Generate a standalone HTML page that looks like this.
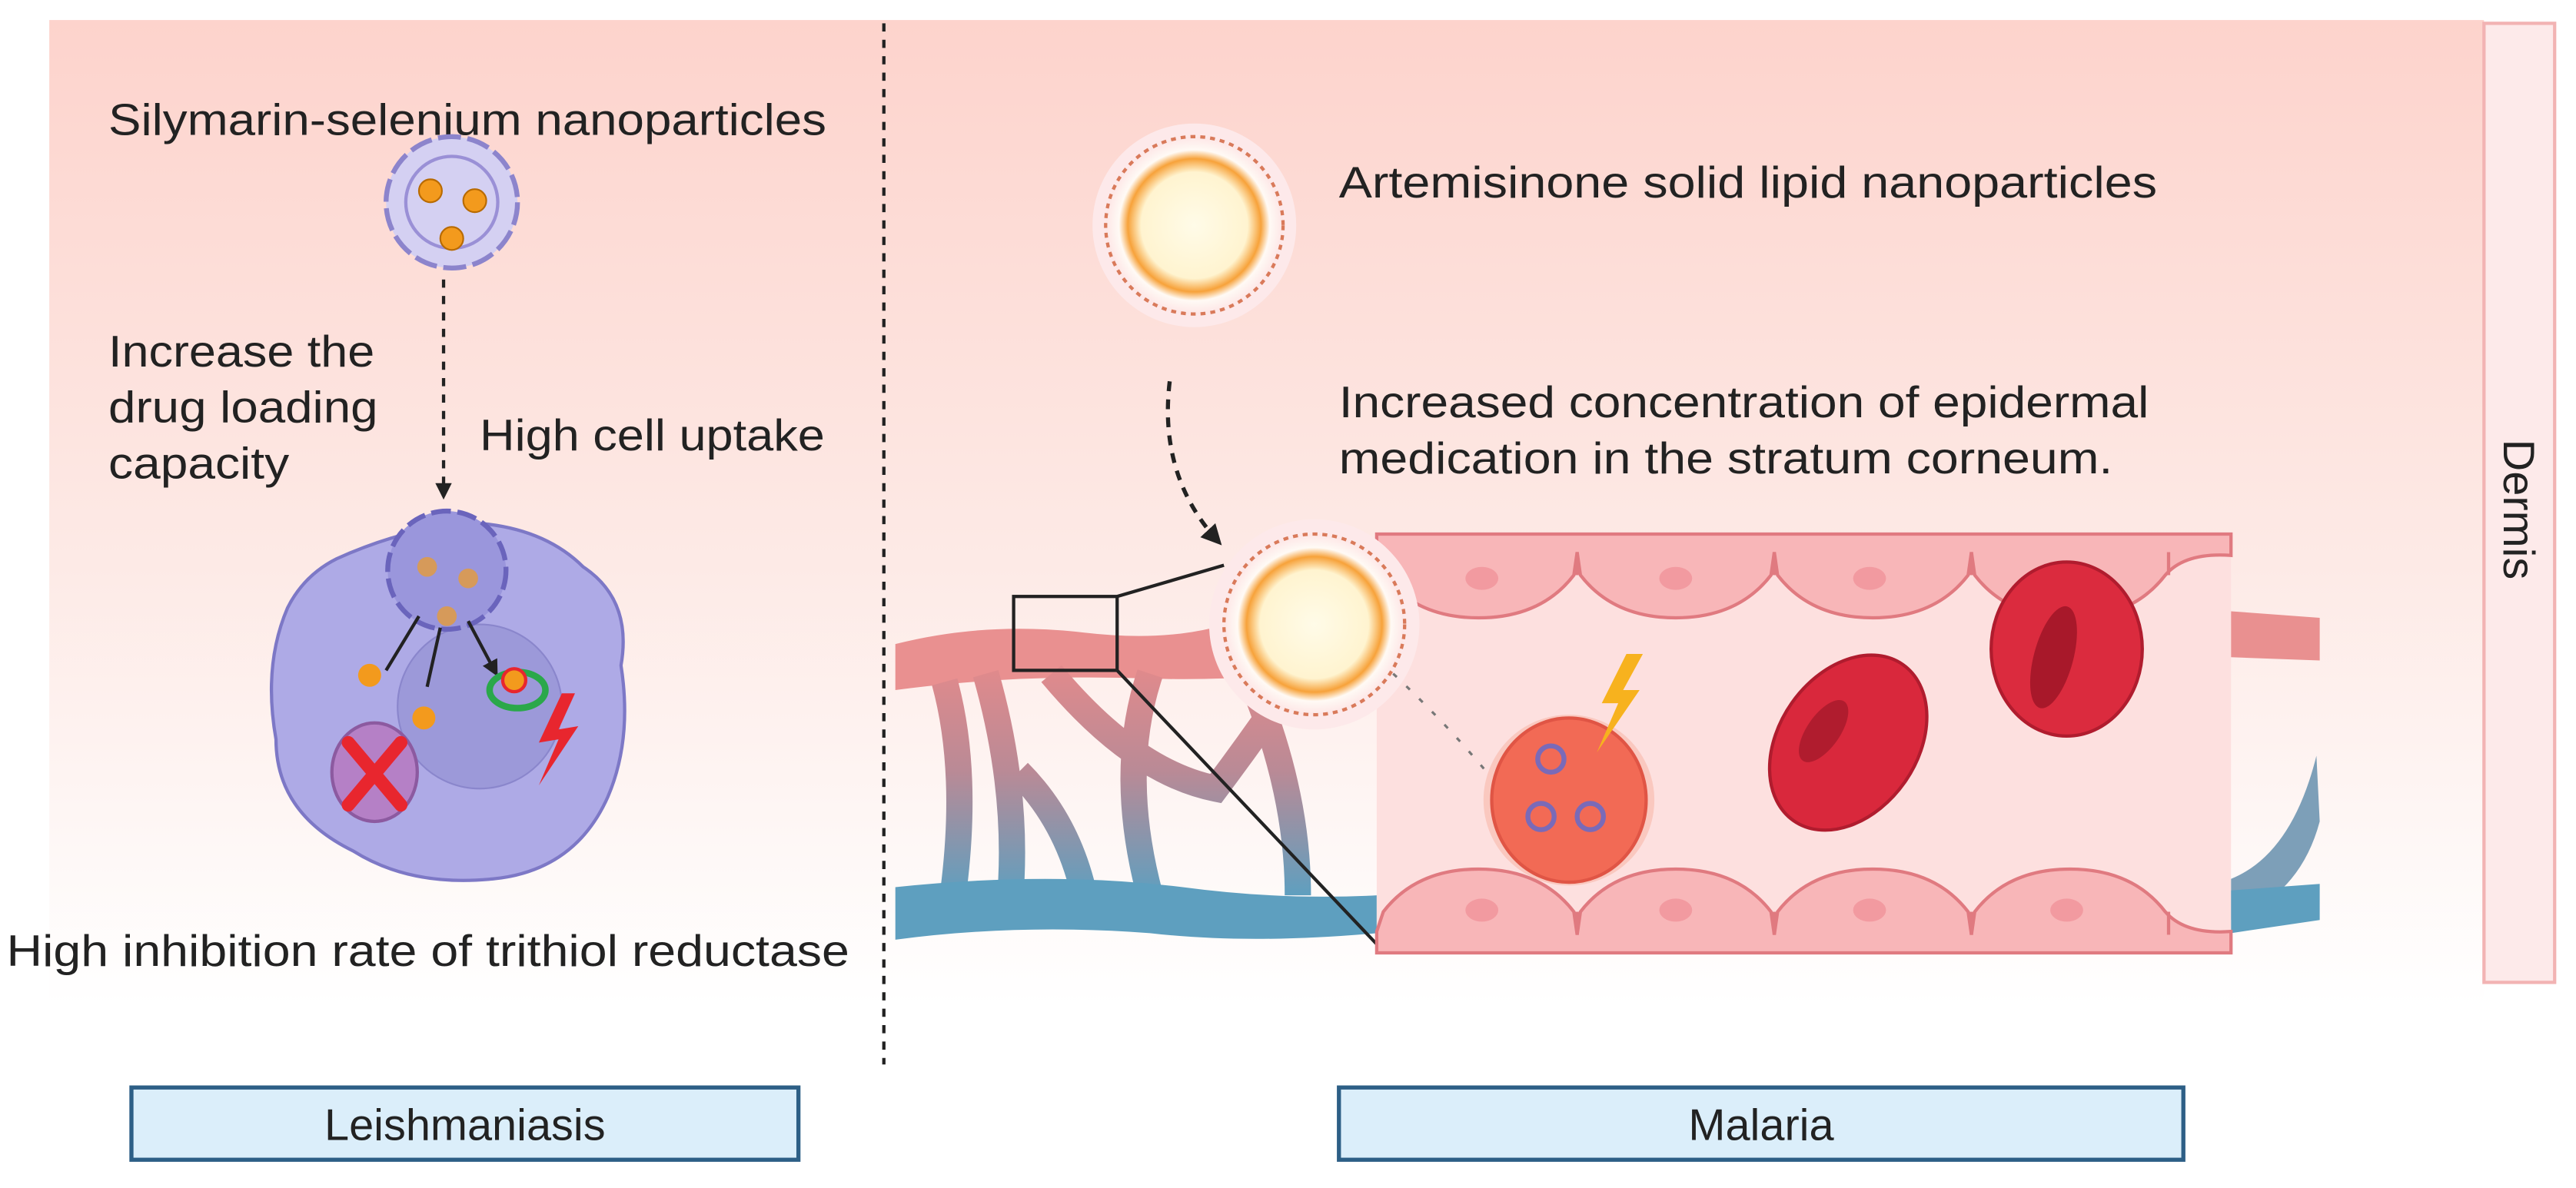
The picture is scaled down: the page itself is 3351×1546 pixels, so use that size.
<!DOCTYPE html>
<html><head><meta charset="utf-8"><style>
html,body{margin:0;padding:0;background:#fff}
svg{display:block}
text{font-family:"Liberation Sans",sans-serif;fill:#222}
</style></head><body>
<svg width="3351" height="1546" viewBox="0 0 1568 723" xmlns="http://www.w3.org/2000/svg">
<defs>
<linearGradient id="bg" x1="0" y1="0" x2="0" y2="1">
<stop offset="0" stop-color="#fdd3cc"/><stop offset="0.55" stop-color="#fdeae6"/><stop offset="1" stop-color="#ffffff"/>
</linearGradient>
<linearGradient id="vein" x1="0" y1="0" x2="0" y2="1">
<stop offset="0" stop-color="#e88a8a"/><stop offset="0.5" stop-color="#b98a96"/><stop offset="1" stop-color="#5f9fbf"/>
</linearGradient>
<radialGradient id="np" cx="0.5" cy="0.5" r="0.5">
<stop offset="0" stop-color="#fffbe8"/><stop offset="0.6" stop-color="#fff4d0"/><stop offset="0.75" stop-color="#f7a23a"/><stop offset="0.85" stop-color="#fffaf5"/><stop offset="1" stop-color="#fde6e6"/>
</radialGradient>
<marker id="ah" viewBox="0 0 10 10" refX="8" refY="5" markerWidth="5" markerHeight="5" orient="auto"><path d="M0,0L10,5L0,10z" fill="#222"/></marker>
</defs>
<rect x="30" y="12" width="1482" height="600" fill="url(#bg)"/>
<rect x="1512" y="14" width="43" height="584" fill="#fdeaea" stroke="#f2b3b3" stroke-width="2"/>
<text x="0" y="0" font-size="27" transform="translate(1524,310) rotate(90)" text-anchor="middle">Dermis</text>
<line x1="538" y1="14" x2="538" y2="648" stroke="#222" stroke-width="2" stroke-dasharray="5,5"/>

<g font-size="27">
<text x="66" y="82" textLength="437" lengthAdjust="spacingAndGlyphs">Silymarin-selenium nanoparticles</text>
<text x="66" y="223" textLength="162" lengthAdjust="spacingAndGlyphs">Increase the</text>
<text x="66" y="257" textLength="164" lengthAdjust="spacingAndGlyphs">drug loading</text>
<text x="66" y="291" textLength="110" lengthAdjust="spacingAndGlyphs">capacity</text>
<text x="292" y="274" textLength="210" lengthAdjust="spacingAndGlyphs">High cell uptake</text>
<text x="4" y="588" textLength="513" lengthAdjust="spacingAndGlyphs">High inhibition rate of trithiol reductase</text>
<text x="815" y="120" textLength="498" lengthAdjust="spacingAndGlyphs">Artemisinone solid lipid nanoparticles</text>
<text x="815" y="254" textLength="493" lengthAdjust="spacingAndGlyphs">Increased concentration of epidermal</text>
<text x="815" y="288" textLength="471" lengthAdjust="spacingAndGlyphs">medication in the stratum corneum.</text>
</g>

<circle cx="275" cy="123" r="40" fill="#d4d0f2" stroke="#8c84cc" stroke-width="3" stroke-dasharray="14,4"/>
<circle cx="275" cy="123" r="28" fill="none" stroke="#9a90d6" stroke-width="2"/>
<circle cx="262" cy="116" r="7" fill="#f39a1d" stroke="#b86a00"/>
<circle cx="289" cy="122" r="7" fill="#f39a1d" stroke="#b86a00"/>
<circle cx="275" cy="145" r="7" fill="#f39a1d" stroke="#b86a00"/>
<line x1="270" y1="170" x2="270" y2="302" stroke="#222" stroke-width="2" stroke-dasharray="5,5" marker-end="url(#ah)"/>

<path d="M205,340 Q245,322 285,318 Q330,320 355,345 Q385,365 378,405 Q385,450 370,485 Q350,530 300,535 Q250,540 215,518 Q168,495 168,450 Q160,405 175,370 Q185,350 205,340z" fill="#aeaae6" stroke="#7d78c6" stroke-width="2"/>
<circle cx="292" cy="430" r="50" fill="#9c99d9" stroke="#8a86cc"/>
<ellipse cx="228" cy="470" rx="26" ry="30" fill="#b580c6" stroke="#8c5aa0" stroke-width="2"/>
<path d="M212,452 L244,490 M244,452 L212,490" stroke="#e8262e" stroke-width="8" stroke-linecap="round"/>
<circle cx="272" cy="347" r="36" fill="#9a96dc" stroke="#6a64bc" stroke-width="3" stroke-dasharray="12,4"/>
<circle cx="260" cy="345" r="6" fill="#d69a5a"/><circle cx="285" cy="352" r="6" fill="#d69a5a"/><circle cx="272" cy="375" r="6" fill="#d69a5a"/>
<path d="M255,375 L235,408 M268,382 L260,418 M285,378 L302,410" stroke="#222" stroke-width="2" marker-end="url(#ah)"/>
<circle cx="225" cy="411" r="7" fill="#f39a1d"/>
<circle cx="258" cy="437" r="7" fill="#f39a1d"/>
<ellipse cx="315" cy="420" rx="17" ry="11" fill="none" stroke="#2aa84a" stroke-width="4"/>
<circle cx="313" cy="414" r="7" fill="#f39a1d" stroke="#e8262e" stroke-width="2"/>
<path d="M342,422 L328,452 L340,450 L328,478 L352,442 L340,444 L350,422z" fill="#e8262e"/>

<!-- vessels network -->
<path d="M545,392 Q600,378 660,385 Q720,392 760,375 L838,368 L838,405 Q760,415 700,413 Q620,410 545,420z" fill="#e99090"/>
<path d="M1358,372 L1412,376 L1412,402 L1358,400z" fill="#e99090"/>
<path d="M600,410 Q620,480 615,545 M640,410 Q690,470 740,480 Q770,440 800,395 M700,410 Q680,470 700,545 M760,410 Q790,480 790,545 M620,470 Q650,500 660,545 M575,415 Q590,470 580,545" stroke="url(#vein)" stroke-width="16" fill="none"/>
<path d="M545,540 Q640,530 720,540 Q780,548 838,545 L838,568 Q760,575 700,568 Q620,562 545,572z" fill="#5e9fbf"/>
<path d="M1358,535 Q1395,520 1410,460 L1412,500 Q1400,545 1358,560z" fill="#7d9fb8"/>
<path d="M1358,542 L1412,538 L1412,560 L1358,568z" fill="#5e9fbf"/>

<rect x="617" y="363" width="63" height="45" fill="none" stroke="#222" stroke-width="2"/>
<line x1="680" y1="363" x2="745" y2="344" stroke="#222" stroke-width="2"/>
<line x1="680" y1="408" x2="843" y2="580" stroke="#222" stroke-width="2"/>

<rect x="838" y="325" width="520" height="255" fill="#fde0df"/>
<g fill="#f8b6b8" stroke="#e07a80" stroke-width="2">
<path d="M838,325 H1358 V335 Q1335,335 1318,348 Q1300,375 1260,375 Q1220,375 1202,348 Q1198,335 1198,335 Q1180,348 Q1162,335 1140,375 Z" opacity="0"/>
<path d="M838,325 H1358 V338 Q1330,336 1318,350 Q1298,376 1260,376 Q1222,376 1202,350 L1200,336 L1198,350 Q1178,376 1140,376 Q1102,376 1082,350 L1080,336 L1078,350 Q1058,376 1020,376 Q982,376 962,350 L960,336 L958,350 Q938,376 900,376 Q862,376 842,350 L838,338z"/>
<path d="M838,580 H1358 V567 Q1330,569 1318,555 Q1298,529 1260,529 Q1222,529 1202,555 L1200,569 L1198,555 Q1178,529 1140,529 Q1102,529 1082,555 L1080,569 L1078,555 Q1058,529 1020,529 Q982,529 962,555 L960,569 L958,555 Q938,529 900,529 Q862,529 842,555 L838,567z"/>
</g>
<g fill="#f29aa0"><ellipse cx="902" cy="352" rx="10" ry="7"/><ellipse cx="1020" cy="352" rx="10" ry="7"/><ellipse cx="1138" cy="352" rx="10" ry="7"/><ellipse cx="1258" cy="352" rx="10" ry="7"/>
<ellipse cx="902" cy="554" rx="10" ry="7"/><ellipse cx="1020" cy="554" rx="10" ry="7"/><ellipse cx="1138" cy="554" rx="10" ry="7"/><ellipse cx="1258" cy="554" rx="10" ry="7"/></g>
<g stroke="#e07a80" stroke-width="2"><line x1="960" y1="336" x2="960" y2="350"/><line x1="1080" y1="336" x2="1080" y2="350"/><line x1="1200" y1="336" x2="1200" y2="350"/><line x1="1320" y1="336" x2="1320" y2="350"/>
<line x1="960" y1="555" x2="960" y2="569"/><line x1="1080" y1="555" x2="1080" y2="569"/><line x1="1200" y1="555" x2="1200" y2="569"/><line x1="1320" y1="555" x2="1320" y2="569"/></g>

<circle cx="727" cy="137" r="62" fill="#fde9ea"/>
<circle cx="727" cy="137" r="54" fill="url(#np)" stroke="#d97a5a" stroke-width="2" stroke-dasharray="3,3"/>
<circle cx="800" cy="380" r="64" fill="#fde9ea"/>
<circle cx="800" cy="380" r="55" fill="url(#np)" stroke="#d97a5a" stroke-width="2" stroke-dasharray="3,3"/>
<path d="M712,232 Q705,290 742,330" stroke="#222" stroke-width="2.5" fill="none" stroke-dasharray="6,5" marker-end="url(#ah)"/>
<path d="M848,410 Q880,440 905,470" stroke="#777" stroke-width="1.5" stroke-dasharray="3,8" fill="none"/>

<circle cx="955" cy="487" r="52" fill="#f7b0a0" opacity="0.5"/>
<ellipse cx="955" cy="487" rx="47" ry="50" fill="#f26a55" stroke="#e05545" stroke-width="2"/>
<g fill="none" stroke="#7a6ab8" stroke-width="3"><circle cx="944" cy="462" r="8"/><circle cx="938" cy="497" r="8"/><circle cx="968" cy="497" r="8"/></g>
<path d="M990,398 L975,428 L985,428 L972,458 L998,420 L988,420 L1000,398z" fill="#f7b21e"/>
<ellipse cx="1125" cy="452" rx="42" ry="58" transform="rotate(35 1125 452)" fill="#d9283c" stroke="#b01c2e" stroke-width="2"/>
<ellipse cx="1110" cy="445" rx="10" ry="22" transform="rotate(35 1110 445)" fill="#b01c2e"/>
<ellipse cx="1258" cy="395" rx="46" ry="53" fill="#db2b3e" stroke="#b01c2e" stroke-width="2"/>
<ellipse cx="1250" cy="400" rx="12" ry="32" transform="rotate(15 1250 400)" fill="#a8182a"/>

<rect x="80" y="662" width="406" height="44" fill="#dbeefa" stroke="#2d5f86" stroke-width="2.5"/>
<text x="283" y="694" font-size="27" text-anchor="middle">Leishmaniasis</text>
<rect x="815" y="662" width="514" height="44" fill="#dbeefa" stroke="#2d5f86" stroke-width="2.5"/>
<text x="1072" y="694" font-size="27" text-anchor="middle">Malaria</text>
</svg>
</body></html>
